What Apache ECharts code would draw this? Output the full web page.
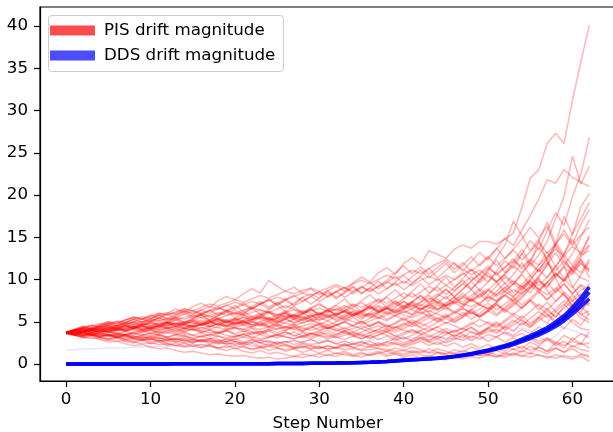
<!DOCTYPE html>
<html>
<head>
<meta charset="utf-8">
<script src="https://cdn.jsdelivr.net/npm/echarts@6/dist/echarts.min.js"></script>
<style>
html,body{margin:0;padding:0;background:#fff;}
#chart{width:613px;height:432px;}
</style>
</head>
<body>
<div id="chart"></div>
<script>
// ---- data ----
const xTicks = [0, 10, 20, 30, 40, 50, 60];
const yTicks = [0, 5, 10, 15, 20, 25, 30, 35, 40];
const pisName = 'PIS drift magnitude';
const ddsName = 'DDS drift magnitude';

const pisRunA = [3.7,3.9,3.6,4.0,4.2,3.8,4.1,4.5,4.2,4.6, 4.9,4.4,4.8,5.3,4.9,5.4,5.8,5.2,5.7,6.1, 6.4,5.9,6.6,7.1,6.5,7.2,7.7,7.0,7.9,8.3, 7.8,8.7,9.2,8.6,9.6,10.3,9.7,10.8,11.4,10.6, 11.9,12.6,11.8,13.4,13.0,12.5,13.6,14.1,13.7,14.5, 14.5,14.2,14.8,15.5,18.5,22.0,23.0,26.1,27.3,26.1, 31.2,35.8,40.1];
const pisRunB = [3.8,3.6,3.9,3.5,3.8,4.1,3.7,3.4,3.8,4.0, 3.6,3.9,4.3,3.8,4.1,4.5,4.0,4.4,4.8,4.3, 4.7,5.1,4.6,5.0,5.5,4.9,5.3,5.8,5.2,5.6, 6.1,5.5,6.0,6.6,5.9,6.4,7.0,6.3,6.9,7.5, 6.8,7.4,8.1,7.3,8.0,8.8,8.0,8.9,9.8,10.6, 9.7,11.0,12.2,11.3,13.0,14.6,13.5,15.8,17.9,16.4, 19.8,22.5,26.8];
const pisRunC = [3.7,3.9,4.2,3.9,4.3,4.6,4.2,4.7,5.0,4.6, 5.1,5.5,5.0,5.6,6.0,5.4,5.9,6.4,5.8,6.3, 6.9,6.2,6.8,7.4,6.7,7.3,6.6,7.2,7.9,7.1, 7.8,8.5,7.7,8.4,9.1,8.3,9.0,9.8,8.9,9.7, 10.5,9.6,10.4,11.3,10.2,11.1,12.0,11.0,12.1,13.2, 12.3,13.6,14.9,14.0,15.8,17.6,19.5,21.8,21.4,23.0, 22.1,21.5,21.0];
const pisRunD = [3.7,4.0,4.4,4.1,4.6,5.0,4.7,5.2,5.6,5.3, 5.8,5.4,6.0,6.5,6.1,6.8,7.2,6.7,7.5,8.0, 7.6,8.3,8.9,8.4,9.9,9.2,8.6,9.1,8.4,8.9, 8.2,8.7,7.9,8.5,9.2,8.4,9.0,8.3,8.9,9.6, 8.8,9.5,10.3,9.4,10.1,9.3,10.0,10.8,9.9,10.7, 11.6,10.5,11.4,12.5,11.2,12.3,13.8,12.4,14.1,15.9, 14.2,16.5,18.3];
const pisRunE = [3.8,3.6,3.9,3.7,4.0,3.8,4.1,3.9,4.2,4.0, 4.3,4.1,4.4,4.2,4.6,4.3,4.7,4.4,4.8,4.5, 4.9,4.6,5.0,4.7,5.2,4.8,5.3,4.9,5.4,5.0, 5.5,5.1,5.7,5.2,5.8,5.3,6.0,5.5,6.2,5.7, 6.4,5.9,6.7,6.1,7.0,6.4,7.3,6.7,7.7,7.0, 8.1,7.4,8.6,7.9,9.2,8.4,9.9,9.0,10.7,9.8, 11.6,10.8,12.4];
const pisRunF = [3.7,3.5,3.3,3.6,3.2,3.0,3.3,2.9,2.7,3.0, 2.6,2.8,2.4,2.2,2.5,2.1,1.9,2.2,1.8,1.6, 1.9,1.5,1.3,1.6,1.2,1.4,1.1,0.9,1.2,1.0, 0.8,1.1,0.9,1.3,1.0,0.8,1.2,1.5,1.1,1.4, 1.2,1.6,1.3,1.8,1.4,1.2,1.7,1.4,2.0,1.6, 1.3,1.9,1.5,2.3,1.8,2.6,2.1,3.0,2.4,3.4, 2.8,3.6,3.1];
const pisRunG = [3.6,3.8,3.5,3.7,3.4,3.6,3.2,3.5,3.1,3.3, 3.0,3.4,3.1,2.8,3.2,2.9,3.3,3.0,2.6,3.0, 2.7,2.4,2.8,2.5,2.2,2.6,2.3,2.0,2.4,2.1, 1.8,2.2,1.9,2.3,2.0,1.7,2.1,1.8,1.5,1.9, 1.6,2.0,1.7,1.4,1.8,1.5,1.2,1.6,1.3,1.0, 1.4,1.1,0.8,1.2,0.9,1.3,1.0,0.7,1.1,0.8, 0.6,0.9,0.3];
const pisRunH = [3.7,4.1,3.8,4.3,4.0,4.5,4.1,4.6,4.2,4.8, 4.4,5.0,4.5,4.9,4.3,4.7,5.2,4.6,5.1,4.5, 5.0,5.6,4.9,5.5,6.1,5.4,6.0,5.3,5.9,6.5, 5.8,6.4,5.7,6.3,7.0,6.2,6.9,7.6,6.7,7.4, 6.6,7.3,8.1,7.2,8.0,8.9,7.9,8.8,9.8,8.7, 9.7,10.8,9.5,10.6,12.0,10.4,11.7,13.3,11.5,13.0, 14.8,12.9,15.2];
const pisRunI = [3.8,3.6,3.4,3.7,3.5,3.8,3.6,3.3,3.6,3.4, 3.7,3.5,3.2,3.5,3.8,3.4,3.7,3.3,3.6,3.9, 3.5,3.2,3.6,3.9,3.4,3.1,3.5,3.8,3.3,3.0, 3.4,3.7,3.2,2.9,3.3,3.6,3.1,3.5,3.9,3.3, 3.7,4.1,3.5,3.9,4.4,3.8,3.3,3.8,4.3,3.6, 4.2,4.8,4.0,4.6,5.3,4.4,5.1,5.9,4.8,5.6, 6.5,5.4,4.9];
const pisRunJ = [3.7,4.0,4.3,4.6,4.3,4.7,5.0,4.6,5.0,5.4, 5.0,5.5,5.9,5.4,5.9,6.3,5.8,6.3,6.8,6.2, 6.7,7.2,6.6,7.1,7.7,7.0,7.6,8.1,7.4,8.0, 8.6,7.9,8.5,9.1,8.3,9.0,9.7,8.9,9.6,10.4, 9.5,10.3,11.1,10.2,11.0,11.9,10.8,11.7,12.7,11.6, 12.6,13.7,12.5,13.6,14.8,16.2,14.9,16.3,13.8,12.1, 10.9,12.4,10.2];
const pisRunK = [3.7,3.5,3.8,4.0,3.7,4.0,4.2,3.9,4.2,4.5, 4.2,4.5,4.8,4.4,4.7,5.0,4.6,4.9,5.3,4.8, 5.2,4.7,5.1,4.6,5.0,4.5,4.9,5.3,4.8,5.2, 4.7,5.1,4.6,5.0,5.5,4.9,5.4,5.9,5.3,5.8, 5.2,5.7,6.2,5.6,6.1,6.7,6.0,6.6,5.9,6.5, 7.2,6.4,7.1,7.9,7.0,7.8,8.7,7.6,8.5,9.5, 8.3,9.3,8.1];
const pisRunL = [3.7,3.5,3.8,3.4,3.2,3.5,3.1,3.4,3.0,2.8, 3.1,2.7,3.0,2.6,2.9,2.5,2.8,2.4,2.7,2.3, 2.6,2.2,2.5,2.1,2.4,2.0,2.3,1.9,2.2,1.8, 2.1,1.7,2.0,2.4,1.9,2.3,2.7,2.2,2.6,3.0, 2.5,2.9,3.4,2.8,3.3,3.9,3.2,3.8,4.4,3.7, 4.3,5.0,4.2,4.9,5.7,4.8,5.6,6.6,5.5,6.9, 8.2,7.0,9.6];
const pisRunM = [3.8,4.0,3.7,4.1,4.4,4.0,4.4,4.8,4.3,4.7, 5.1,4.6,5.0,5.5,4.9,5.3,5.8,5.2,5.7,6.2, 5.5,6.0,6.6,5.9,6.4,7.0,6.2,6.8,6.0,6.6, 7.2,6.4,7.0,7.7,6.8,7.5,8.2,7.3,8.0,8.8, 7.8,8.6,9.5,8.4,9.3,10.3,9.1,10.1,11.2,9.9, 11.0,12.3,10.8,12.1,13.6,11.9,14.5,16.8,14.2,17.5, 15.3,18.6,20.2];
const pisRunN = [3.7,3.9,3.6,3.4,3.7,3.5,3.2,3.5,3.3,3.0, 3.3,3.1,2.8,3.1,3.4,3.0,2.7,3.0,3.3,2.9, 3.2,3.6,3.1,3.5,3.9,3.4,3.8,3.3,3.7,3.2, 3.6,4.0,3.5,3.9,3.4,3.0,3.4,2.9,3.3,2.8, 3.2,2.7,3.1,2.6,3.0,2.5,2.9,3.4,2.8,3.3, 2.7,3.2,2.6,3.1,2.5,3.0,2.4,2.9,2.2,2.7, 2.0,2.5,1.9];
const pisRunO = [3.7,4.0,4.2,3.9,4.3,4.5,4.2,4.6,4.9,4.5, 4.9,5.2,4.8,5.2,4.7,5.1,5.5,5.0,5.4,4.9, 5.3,5.8,5.2,5.7,6.2,5.6,6.1,5.5,6.0,6.5, 5.9,6.4,5.8,6.3,5.7,6.2,6.8,6.1,6.7,6.0, 6.6,7.3,6.5,7.2,6.4,7.1,7.9,7.0,7.8,8.7, 7.7,8.6,9.6,8.4,9.4,10.5,9.2,10.3,11.6,10.1, 11.4,12.9,13.4];
const pisRunP = [3.7,3.4,3.7,3.9,3.6,3.9,3.5,3.8,4.1,3.7, 4.0,3.6,3.9,4.2,3.8,4.1,3.7,4.0,3.6,3.9, 4.3,3.8,4.2,3.7,4.1,4.5,4.0,4.4,3.9,4.3, 4.8,4.2,4.7,4.1,4.6,5.1,4.5,5.0,4.4,4.9, 5.5,4.8,5.4,6.0,5.3,5.9,5.2,5.8,6.5,5.7, 6.4,7.2,6.3,7.1,8.0,9.1,10.2,8.7,7.4,8.3, 6.9,5.8,6.3];
const pisRunQ = [3.8,3.9,4.1,3.8,4.0,4.3,4.0,4.2,4.5,4.1, 4.4,4.7,4.3,4.6,4.2,4.5,4.9,4.4,4.8,5.2, 4.7,5.1,4.6,5.0,4.5,4.9,5.4,4.8,5.3,5.8, 5.2,5.7,5.1,5.6,6.2,5.5,6.1,6.8,6.0,6.7, 7.4,6.6,7.3,8.1,7.2,8.0,7.1,7.9,8.8,7.8, 8.7,9.7,8.5,9.5,10.6,9.3,10.4,11.7,13.2,11.6, 13.1,15.0,17.1];
const pisRunR = [3.6,3.4,3.1,3.4,3.0,2.8,3.1,2.7,2.5,2.8, 2.4,2.6,2.2,2.5,2.1,2.4,2.0,2.3,1.9,2.2, 1.8,2.1,1.7,2.0,1.6,1.9,1.5,1.8,1.4,1.7, 1.3,1.6,1.2,1.5,1.1,1.4,1.0,1.3,0.9,1.2, 0.8,1.1,0.7,1.0,0.6,0.5,0.8,0.6,0.9,0.7, 1.1,0.8,1.3,1.0,1.6,1.2,2.0,1.5,2.5,1.9, 3.1,2.4,3.8];
const pisRunS = [3.7,4.1,4.4,4.1,4.5,4.9,4.5,4.9,5.3,4.9, 5.3,5.8,5.3,5.7,6.2,5.6,6.0,5.5,5.9,6.4, 5.8,6.2,5.6,6.0,5.4,5.8,6.3,5.7,6.1,5.5, 5.9,6.4,5.8,6.3,5.7,6.2,6.8,6.1,6.6,7.2, 6.5,7.1,6.4,7.0,7.7,6.9,7.6,8.4,7.5,8.3, 7.4,8.2,9.1,8.0,8.9,9.9,8.7,9.7,8.5,9.5, 8.3,9.4,8.8];
const pisRunT = [3.7,3.8,4.0,3.7,3.9,4.2,3.9,4.1,4.4,4.0, 4.3,4.6,4.2,4.5,4.8,4.4,4.7,5.1,4.6,5.0, 5.4,4.9,5.3,5.8,5.2,5.6,6.1,5.5,5.9,6.4, 5.8,6.3,6.9,6.2,6.7,7.3,6.6,7.2,7.9,7.1, 7.7,8.4,7.6,8.3,9.1,8.2,9.0,9.9,8.9,9.8, 10.8,9.7,10.7,11.8,13.1,11.6,12.9,14.5,17.2,19.8, 24.6,21.3,23.4];
const pisRunU = [3.7,3.5,3.3,3.5,3.2,3.4,3.1,3.3,3.0,3.2, 2.9,3.1,2.8,3.0,2.7,2.9,2.6,2.8,2.5,2.7, 3.0,2.6,2.9,2.5,2.8,2.4,2.7,2.3,2.6,2.9, 2.5,2.8,2.4,2.7,2.3,2.6,2.2,2.5,2.1,2.4, 2.0,2.3,2.7,2.2,2.6,2.1,2.5,2.0,2.4,1.9, 2.3,1.8,2.2,1.7,2.1,1.6,2.0,1.5,1.9,1.4, 1.8,1.2,1.0];
const pisRunV = [3.8,3.6,3.9,4.1,3.8,4.1,4.4,4.0,4.3,4.6, 4.2,4.5,4.9,4.4,4.8,5.2,4.7,5.1,4.6,5.0, 4.5,4.9,4.4,4.8,4.3,4.7,4.2,4.6,4.1,4.5, 4.0,4.4,3.9,4.3,3.8,4.2,3.7,4.1,4.6,4.0, 4.5,5.0,4.4,4.9,5.5,4.8,5.4,6.1,5.3,6.0, 6.8,5.9,6.7,7.6,6.6,7.5,6.4,7.3,6.2,7.1, 6.0,6.9,5.8];
const pisRunW = [3.7,3.6,3.8,3.5,3.7,3.4,3.6,3.9,3.5,3.8, 4.1,3.7,4.0,3.6,3.9,4.2,3.8,4.1,3.7,4.0, 3.6,3.9,3.5,3.8,4.1,3.7,4.0,4.4,3.9,4.3, 4.7,4.2,4.6,5.1,4.5,5.0,4.4,4.9,4.3,4.8, 5.3,4.7,5.2,5.8,5.1,5.7,5.0,5.6,6.3,5.5, 6.2,7.0,6.1,6.9,7.8,8.9,10.2,11.8,14.1,12.6, 11.0,12.3,11.2];
const pisRunX = [3.7,4.0,4.3,4.1,4.5,4.8,4.5,4.9,5.3,5.0, 5.4,5.8,5.4,5.9,6.3,5.9,6.4,6.0,6.5,7.0, 6.5,7.0,6.5,7.1,7.6,7.0,7.5,6.9,7.4,8.0, 7.4,8.0,8.6,7.9,8.5,9.2,8.5,9.2,9.9,10.8, 11.6,10.7,11.5,10.6,11.4,12.2,11.2,12.0,11.0,11.8, 12.7,11.6,12.5,13.5,12.3,13.3,14.4,13.1,14.2,15.4, 14.0,15.3,16.2];
const pisRunY1 = [3.7,3.8,4.0,4.1,3.9,3.8,4.0,4.3,4.4,4.2, 4.1,4.3,4.6,4.8,4.7,4.5,4.6,4.9,5.1,5.0, 4.8,4.9,5.2,5.5,5.3,5.1,5.4,5.7,5.6,5.3, 5.2,5.5,5.9,6.2,6.0,5.7,5.9,6.3,6.6,6.4, 6.1,6.5,7.0,6.7,6.4,6.9,7.4,7.1,6.8,7.3, 7.9,7.5,8.2,8.8,8.3,9.1,9.8,9.2,10.3,11.5, 10.6,12.0,11.1];
const pisRunY2 = [3.7,3.6,3.5,3.7,3.9,3.8,3.6,3.5,3.7,3.9, 4.0,3.8,3.7,3.9,4.2,4.1,3.9,3.7,3.8,4.1, 4.3,4.1,3.8,3.6,3.9,4.2,4.4,4.1,3.8,3.6, 3.9,4.3,4.0,3.7,3.5,3.8,4.2,4.5,4.1,3.8, 4.2,4.7,4.3,3.9,4.4,4.9,4.5,4.1,4.7,5.3, 4.8,4.3,5.0,5.7,5.1,4.6,5.4,6.3,5.6,6.6, 7.5,6.4,7.3];
const pisRunY3 = [3.7,4.0,4.2,4.5,4.8,4.6,4.9,5.2,5.5,5.3, 5.6,6.0,5.8,6.1,6.5,6.3,6.7,7.1,6.9,7.2, 7.6,7.3,7.7,8.1,7.8,8.2,8.6,8.3,8.7,9.0, 8.6,9.0,9.4,9.0,9.5,9.9,9.5,10.0,10.5,10.1, 10.6,11.1,10.7,11.3,11.9,12.4,11.8,11.2,10.6,11.1, 10.4,9.8,10.5,9.7,9.1,9.8,8.9,8.2,9.0,8.1, 7.4,8.3,7.6];
const pisRunY4 = [3.6,3.4,3.2,3.0,3.1,2.9,2.7,2.8,2.6,2.4, 2.5,2.3,2.4,2.2,2.0,2.1,2.3,2.1,1.9,2.0, 2.2,2.0,1.8,1.9,2.1,1.9,1.7,1.8,2.0,2.2, 2.0,1.8,1.9,2.1,2.4,2.2,2.0,2.3,2.6,2.4, 2.2,2.5,2.9,2.6,2.3,2.7,3.1,2.8,3.3,3.0, 3.5,3.2,3.8,3.4,4.1,3.6,4.4,3.9,4.8,4.2, 5.3,4.6,6.0];
const pisRunY5 = [3.8,3.9,4.1,4.0,4.2,4.4,4.3,4.5,4.4,4.6, 4.8,4.7,4.9,4.6,4.8,5.0,4.8,5.1,5.3,5.0, 5.2,5.5,5.3,5.6,5.4,5.2,5.5,5.8,5.5,5.3, 5.6,5.9,5.6,5.4,5.7,6.0,5.7,5.4,5.8,6.2, 5.8,5.5,5.9,6.3,5.9,5.5,6.0,6.6,6.1,5.6, 6.3,7.0,6.4,5.8,6.7,7.6,6.8,5.9,5.1,5.9, 4.9,4.2,4.0];
const pisRunY6 = [3.7,4.1,4.3,4.6,4.4,4.8,5.1,4.9,5.3,5.6, 5.4,5.8,6.1,5.9,6.3,6.0,6.4,6.8,6.5,6.9, 7.3,7.0,7.4,7.1,7.5,7.9,7.6,8.0,8.4,8.1, 8.5,8.1,8.6,9.0,8.6,9.1,8.7,9.2,9.7,9.3, 9.8,9.3,9.9,10.4,9.9,10.5,10.0,10.6,11.2,10.6, 11.3,10.7,11.5,12.2,11.5,12.4,11.7,12.7,13.6,12.8, 13.9,13.1,14.1];
const pisRunY7 = [3.7,3.4,3.1,3.2,2.9,2.6,2.7,2.4,2.2,2.3, 2.0,1.8,1.9,1.6,1.4,1.5,1.3,1.1,1.2,1.0, 0.9,1.0,0.8,0.7,0.8,0.6,0.7,0.9,0.8,1.0, 1.2,1.0,1.3,1.1,0.9,1.2,1.0,1.3,1.5,1.2, 1.0,1.4,1.1,0.9,1.3,1.0,0.8,1.2,0.9,1.4, 1.1,1.6,1.2,1.8,1.4,2.1,1.6,1.2,1.9,1.4, 2.2,1.7,1.5];
const pisRunY8 = [3.8,3.7,3.9,4.2,4.0,4.3,4.1,4.4,4.7,4.5, 4.3,4.6,4.9,4.7,5.0,4.8,4.6,4.9,5.3,5.1, 4.9,5.2,5.6,5.3,5.0,5.4,5.8,5.5,5.1,5.6, 6.0,5.7,5.3,5.8,6.3,5.9,5.5,6.1,6.6,6.2, 6.8,7.4,6.9,7.6,8.3,7.7,8.6,9.5,8.8,10.0, 11.2,12.6,14.1,16.9,15.2,13.4,14.8,12.1,10.3,11.6, 9.2,7.8,7.1];
const pisRunY9 = [3.7,3.9,3.8,4.0,4.2,4.1,4.3,4.2,4.4,4.3, 4.5,4.4,4.6,4.8,4.6,4.4,4.7,4.9,4.7,4.5, 4.8,5.0,4.7,4.5,4.8,5.1,4.8,4.6,4.9,5.2, 4.9,4.6,5.0,5.4,5.0,4.7,5.1,5.5,5.1,5.7, 6.2,5.8,6.4,7.0,6.5,7.2,7.9,7.3,8.1,8.9, 8.2,9.2,10.3,9.4,10.7,12.1,11.0,12.6,14.3,13.0, 15.4,17.2,19.1];
const pisRunY10 = [3.7,3.5,3.6,3.4,3.5,3.3,3.4,3.2,3.3,3.1, 3.2,3.0,3.1,2.9,3.0,2.8,2.9,2.7,2.8,2.6, 2.7,2.5,2.6,2.8,2.6,2.4,2.6,2.8,2.5,2.3, 2.5,2.7,2.4,2.2,2.4,2.6,2.3,2.1,2.3,2.6, 2.3,2.7,3.1,2.8,3.3,2.9,3.5,3.1,3.8,3.4, 4.1,3.6,4.4,3.9,4.9,4.3,5.5,4.8,6.2,5.4, 7.1,6.1,8.0];
const pisRunY11 = [3.7,4.0,4.2,4.1,4.4,4.6,4.5,4.8,5.0,4.9, 5.1,5.4,5.2,5.5,5.3,5.6,5.9,5.7,5.4,5.7, 6.0,5.8,5.5,5.8,6.2,5.9,5.6,5.9,6.3,6.0, 5.7,6.1,6.5,6.1,5.8,6.2,6.7,6.3,5.9,6.4, 6.9,6.4,6.0,6.6,7.2,6.7,6.2,6.9,7.6,7.0, 6.5,7.3,8.2,7.5,8.6,9.9,11.2,12.4,10.1,8.3, 6.7,5.9,5.2];
const pisRunY12 = [3.7,3.5,3.3,3.4,3.2,3.0,3.1,2.9,3.0,2.8, 2.9,2.7,2.8,3.0,2.8,2.6,2.8,3.0,2.9,2.7, 2.9,3.2,3.0,2.8,3.1,3.4,3.2,3.0,3.3,3.6, 3.4,3.2,3.5,3.9,3.6,3.3,3.7,4.1,3.8,4.3, 4.8,4.4,4.9,5.5,5.0,5.6,6.2,5.7,6.4,7.1, 6.5,7.3,8.1,7.4,8.3,9.3,8.5,9.6,10.8,9.8, 11.2,12.6,14.0];
const pisRunY13 = [3.8,3.7,3.9,3.8,4.0,3.9,4.1,4.0,4.2,4.0, 4.2,4.4,4.2,4.0,4.3,4.5,4.3,4.1,4.4,4.6, 4.3,4.1,4.4,4.7,4.4,4.1,4.4,4.7,4.3,4.0, 4.3,4.6,4.2,3.9,4.2,4.5,4.1,3.8,4.1,4.4, 4.0,3.7,4.0,4.3,3.9,3.6,3.9,4.2,3.8,3.5, 3.8,4.1,3.6,3.2,3.6,3.1,2.7,3.1,2.6,2.2, 2.7,2.3,2.5];
const pisRunY14 = [3.7,4.1,4.5,4.3,4.7,5.0,4.8,5.2,5.5,5.3, 5.7,6.0,5.8,6.2,6.5,6.3,6.0,6.3,6.6,6.3, 6.0,6.4,6.7,6.4,6.1,6.5,6.9,6.5,6.2,6.6, 7.0,6.6,6.3,6.7,7.1,6.7,7.2,7.7,7.2,7.8, 8.4,7.9,8.5,9.2,8.6,9.3,8.7,9.5,10.3,9.6, 10.4,9.7,10.6,11.6,10.8,11.9,10.9,12.0,11.0,12.2, 11.1,10.2,9.8];
const pisRunY15 = [3.6,3.5,3.4,3.6,3.5,3.3,3.5,3.4,3.2,3.4, 3.6,3.4,3.2,3.4,3.6,3.4,3.2,3.5,3.7,3.4, 3.2,3.5,3.8,3.5,3.2,3.5,3.8,3.4,3.1,3.5, 3.8,3.4,3.1,3.4,3.8,3.4,3.0,3.4,3.8,3.3, 3.0,3.4,3.9,3.4,3.0,3.5,4.0,3.5,3.1,3.7, 4.3,3.8,4.5,5.2,4.6,5.4,6.2,5.5,6.5,7.5, 6.6,7.6,6.9];
const pisRunY16 = [3.7,3.9,4.1,4.3,4.1,4.3,4.5,4.4,4.6,4.8, 4.6,4.8,5.0,4.8,5.0,5.2,5.0,5.2,5.4,5.2, 5.4,5.1,5.3,5.5,5.2,5.4,5.6,5.3,5.5,5.8, 5.5,5.7,6.0,5.6,5.9,6.2,5.8,6.1,6.5,6.1, 6.5,6.9,6.4,6.9,7.4,6.9,7.5,8.1,7.5,8.2, 8.9,8.2,9.0,9.9,9.1,10.1,11.2,10.2,11.5,12.9, 11.7,13.3,15.0];
const pisRunY17 = [3.7,3.6,3.4,3.5,3.3,3.4,3.2,3.0,3.1,2.9, 3.0,2.8,2.6,2.7,2.5,2.6,2.8,2.6,2.4,2.5, 2.3,2.4,2.2,2.0,2.1,2.3,2.1,1.9,2.0,1.8, 1.9,2.1,1.9,1.7,1.8,1.6,1.7,1.9,1.7,1.5, 1.6,1.4,1.5,1.3,1.4,1.2,1.3,1.1,1.2,1.0, 1.1,0.9,1.0,1.3,1.0,0.8,1.1,0.9,0.7,1.0, 0.8,1.1,0.8];
const pisRunY18 = [3.7,4.0,3.9,4.2,4.5,4.3,4.6,4.9,4.7,5.0, 5.3,5.1,5.4,5.2,5.5,5.8,5.5,5.8,6.1,5.8, 6.1,5.8,6.1,6.4,6.1,5.8,6.1,6.4,6.0,6.3, 6.6,6.2,6.5,6.9,6.5,6.1,6.5,6.9,6.5,6.9, 7.4,6.9,7.3,7.8,7.3,6.8,7.3,7.9,7.4,8.0, 8.7,8.0,8.7,9.5,8.8,9.6,8.8,9.7,10.7,9.8, 10.8,11.9,10.9];
const pisRunY19 = [3.8,3.6,3.8,4.0,3.8,4.0,4.2,4.0,4.2,4.4, 4.2,4.0,4.2,4.4,4.2,4.0,4.3,4.5,4.3,4.1, 4.4,4.6,4.3,4.1,4.4,4.7,4.4,4.2,4.5,4.8, 4.5,4.2,4.6,4.9,4.5,4.2,4.6,5.0,4.6,4.3, 4.7,5.2,4.8,4.4,4.9,5.4,4.9,5.5,6.1,5.6, 6.3,5.7,6.5,7.3,6.6,7.5,8.5,7.6,8.8,10.1, 9.0,10.5,12.1];
const pisRunY20 = [3.7,3.5,3.7,3.5,3.3,3.5,3.3,3.5,3.7,3.5, 3.3,3.5,3.7,3.5,3.3,3.1,3.3,3.5,3.3,3.1, 3.3,3.5,3.2,3.0,3.2,3.5,3.2,3.0,3.3,3.6, 3.3,3.0,3.3,3.7,3.3,3.0,3.4,3.8,3.4,3.1, 3.5,4.0,3.6,3.2,3.7,4.2,3.7,4.3,4.9,4.4, 5.0,4.5,5.2,6.0,5.4,6.2,7.1,6.4,7.4,8.5, 7.6,8.8,9.1];

const pisRuns = [pisRunA,pisRunB,pisRunC,pisRunD,pisRunE,pisRunF,pisRunG,pisRunH,pisRunI,pisRunJ,pisRunK,pisRunL,
                 pisRunM,pisRunN,pisRunO,pisRunP,pisRunQ,pisRunR,pisRunS,pisRunT,pisRunU,pisRunV,pisRunW,pisRunX,
                 pisRunY1,pisRunY2,pisRunY3,pisRunY4,pisRunY5,pisRunY6,pisRunY7,pisRunY8,pisRunY9,pisRunY10,
                 pisRunY11,pisRunY12,pisRunY13,pisRunY14,pisRunY15,pisRunY16,pisRunY17,pisRunY18,pisRunY19,pisRunY20];

const ddsRunA = [0.00,0.00,0.00,0.00,0.00,0.01,0.01,0.01,0.01,0.01, 0.01,0.01,0.01,0.02,0.02,0.02,0.02,0.02,0.03,0.03, 0.03,0.03,0.04,0.04,0.04,0.05,0.05,0.06,0.07,0.08, 0.09,0.10,0.11,0.13,0.15,0.18,0.21,0.25,0.30,0.37, 0.45,0.50,0.55,0.61,0.67,0.76,0.88,1.03,1.20,1.39, 1.60,1.84,2.10,2.42,2.80,3.18,3.60,4.10,4.70,5.40, 6.30,7.30,8.50];
const ddsRunB = [0.00,0.00,0.00,0.00,0.00,0.01,0.01,0.01,0.01,0.01, 0.01,0.01,0.01,0.02,0.02,0.02,0.02,0.02,0.03,0.03, 0.03,0.03,0.04,0.04,0.04,0.05,0.05,0.06,0.07,0.08, 0.09,0.10,0.11,0.13,0.15,0.17,0.20,0.24,0.29,0.35, 0.43,0.48,0.53,0.59,0.65,0.73,0.85,0.99,1.15,1.33, 1.53,1.76,2.01,2.31,2.66,3.02,3.42,3.89,4.45,5.10, 5.90,6.80,7.70];
const ddsRunC = [0.00,0.00,0.00,0.00,0.00,0.01,0.01,0.01,0.01,0.01, 0.01,0.01,0.01,0.02,0.02,0.02,0.02,0.02,0.03,0.03, 0.03,0.03,0.04,0.04,0.04,0.05,0.05,0.06,0.07,0.08, 0.09,0.10,0.12,0.14,0.16,0.19,0.22,0.26,0.31,0.39, 0.47,0.52,0.57,0.63,0.70,0.79,0.92,1.07,1.25,1.45, 1.67,1.92,2.20,2.53,2.94,3.35,3.80,4.33,4.97,5.72, 6.70,7.85,9.10];
const ddsRuns = [ddsRunA, ddsRunB, ddsRunC];

const faintBlueRun = [1.7,1.7,1.8,1.8,1.8,1.9,1.9,1.9,2.0,2.0, 2.0,2.1,2.1,2.1,2.2,2.2,2.3,2.3,2.4,2.4, 2.4,2.5,2.5,2.5,2.6,2.6,2.6,2.7,2.7,2.8, 2.8,2.8,2.7,2.6,2.6,2.7,2.8,2.9,2.9,3.0, 3.0,3.1,3.1,3.2,3.2,3.1,3.0,2.9,2.8,2.9, 3.1,3.3,3.6,4.0,4.3,3.9,3.2,2.7,3.3,4.3, 4.0,3.6,3.3];

// ---- chart ----
const FONT = 'DejaVu Sans';
const toPairs = run => run.map((v, i) => [i, v]);

const series = [];
pisRuns.forEach(run => {
  series.push({
    name: pisName, type: 'line', data: toPairs(run),
    symbol: 'none', showSymbol: false, silent: true, z: 2,
    lineStyle: { color: '#ff0000', width: 1.6, opacity: 0.27 },
    itemStyle: { color: '#ff0000' }
  });
});
series.push({
  name: 'faint', type: 'line', data: toPairs(faintBlueRun),
  symbol: 'none', showSymbol: false, silent: true, z: 3,
  lineStyle: { color: '#0000ff', width: 1.5, opacity: 0.1 }
});
ddsRuns.forEach(run => {
  series.push({
    name: ddsName, type: 'line', data: toPairs(run),
    symbol: 'none', showSymbol: false, silent: true, z: 4,
    lineStyle: { color: '#0000ff', width: 3.5, opacity: 0.85 },
    itemStyle: { color: '#0000ff' }
  });
});

const chart = echarts.init(document.getElementById('chart'), null, { renderer: 'canvas' });
chart.setOption({
  animation: false,
  backgroundColor: '#ffffff',
  textStyle: { fontFamily: FONT },
  grid: { left: 40, top: 7, width: 575.5, height: 374, containLabel: false, outerBoundsMode: 'none',
          show: true, borderColor: '#000', borderWidth: 1.2, backgroundColor: 'transparent' },
  legend: {
    data: [
      { name: pisName, icon: 'rect', itemStyle: { color: 'rgba(255,0,0,0.7)', opacity: 1, borderWidth: 0 } },
      { name: ddsName, icon: 'rect', itemStyle: { color: 'rgba(0,0,255,0.7)', opacity: 1, borderWidth: 0 } }
    ],
    orient: 'vertical', left: 48.5, top: 15.5,
    itemWidth: 45, itemHeight: 10, itemGap: 5,
    padding: [5, 8, 6, 1.5],
    backgroundColor: 'rgba(255,255,255,0.8)', borderColor: '#cccccc', borderWidth: 1, borderRadius: 3,
    textStyle: { fontFamily: FONT, fontSize: 16.7, color: '#000', lineHeight: 20, padding: [0, 0, 0, 4] },
    selectedMode: false
  },
  xAxis: {
    type: 'value', min: -3.1, max: 65.1,
    name: 'Step Number', nameLocation: 'middle', nameGap: 34,
    nameTextStyle: { fontFamily: FONT, fontSize: 16.7, color: '#000' },
    axisLine: { show: true, onZero: false, lineStyle: { color: '#000', width: 1.2 } },
    axisTick: { show: true, length: 6, customValues: xTicks, lineStyle: { color: '#000', width: 1.2 } },
    axisLabel: { customValues: xTicks, margin: 10, fontFamily: FONT, fontSize: 16.7, color: '#000' },
    splitLine: { show: false }
  },
  yAxis: {
    type: 'value', min: -2.01, max: 42.25,
    axisLine: { show: true, onZero: false, lineStyle: { color: '#000', width: 1.2 } },
    axisTick: { show: true, length: 6, customValues: yTicks, lineStyle: { color: '#000', width: 1.2 } },
    axisLabel: { customValues: yTicks, margin: 12, fontFamily: FONT, fontSize: 16.7, color: '#000' },
    splitLine: { show: false }
  },
  series: series
});
</script>
</body>
</html>
